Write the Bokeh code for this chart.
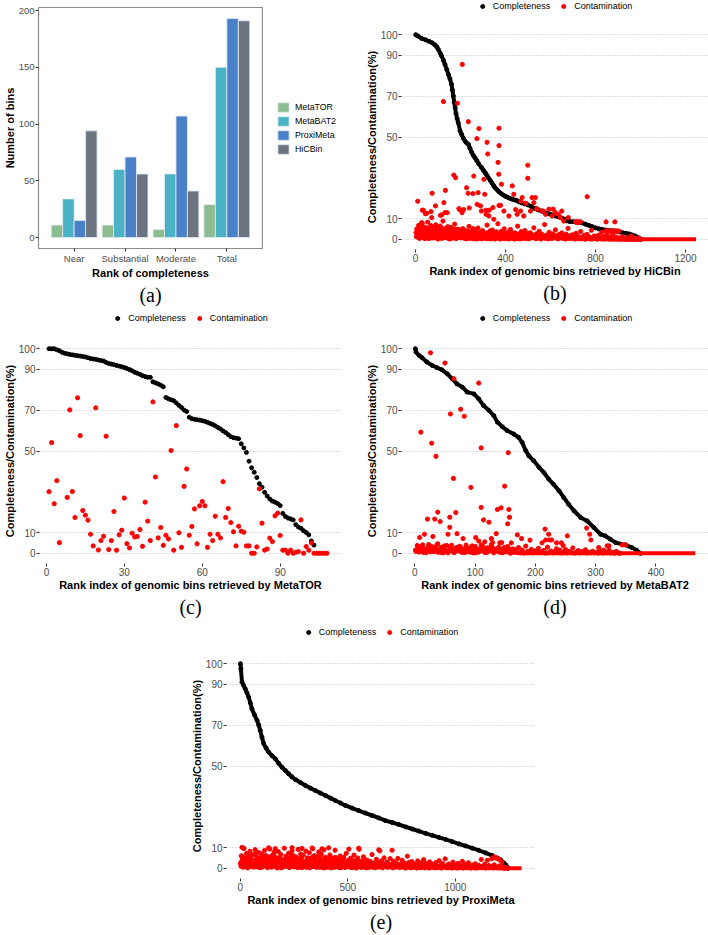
from bokeh.plotting import figure
from bokeh.models import (Range1d, FactorRange, FixedTicker, Legend, LegendItem,
                          Title, ColumnDataSource, Spacer)
from bokeh.layouts import row, column
from bokeh.transform import dodge
from bokeh.embed import file_html
from bokeh.resources import INLINE

FONT = "Liberation Sans"
SERIF = "Liberation Serif"

# ---------------- panel (a) data ----------------
CATEGORIES = ["Near", "Substantial", "Moderate", "Total"]
METHODS = ["MetaTOR", "MetaBAT2", "ProxiMeta", "HiCBin"]
METATOR_BINS = [11, 11, 7, 29]
METABAT2_BINS = [34, 60, 56, 150]
PROXIMETA_BINS = [15, 71, 107, 193]
HICBIN_BINS = [94, 56, 41, 191]
BAR_COLORS = ["#8ebc91", "#4ab2c4", "#4a80c8", "#6c7482"]
Y_TICKS_A = [0, 50, 100, 150, 200]

# ---------------- scatter panels shared ----------------
Y_TICKS = [0, 10, 50, 70, 90, 100]
SERIES = ["Completeness", "Contamination"]

# ---------------- (b) HiCBin ----------------
HICBIN_X_TICKS = [0, 400, 800, 1200]
HICBIN_COMP_RANK = [1, 10, 27, 45, 60, 75, 87, 95, 101, 110, 116, 124, 131, 139, 146, 153, 160, 164, 168, 172,
                    176, 180, 185, 190, 198, 205, 212, 220, 228, 235, 242, 250, 257, 264, 272, 280, 294, 302, 310, 317,
                    324, 332, 340, 347, 353, 362, 370, 380, 390, 400, 410, 420, 430, 442, 450, 460, 472, 486, 500, 515,
                    531, 545, 560, 575, 590, 605, 620, 635, 650, 662, 672, 685, 700, 712, 725, 740, 755, 770, 785, 800,
                    815, 830, 845, 860, 875, 890, 905, 920, 935, 950, 962, 975, 985, 995, 1003]
HICBIN_COMP = [100, 99.4, 98.2, 97.5, 96.8, 96, 95, 94, 92.9, 91, 89.6, 87.5, 85.5, 83, 80.6, 78.5, 75.8, 73, 70.1, 67,
               64.4, 61.5, 59, 57, 53, 51.3, 49.5, 48, 47, 46.4, 44.5, 42.5, 41, 39.9, 38.5, 37, 35, 33.7, 32.5, 31.3,
               30.1, 28.8, 27.5, 26.3, 25.3, 24.3, 23.3, 22.4, 21.6, 21, 20.5, 20, 19.6, 19.2, 19, 18.3, 17.8, 17.3, 16.8, 16,
               15, 14.4, 13.8, 13.1, 12.5, 12, 11.4, 11, 10.4, 9.8, 9, 8.7, 8.6, 8.5, 8.3, 8, 7.4, 6.8, 6.2, 5.6,
               5.1, 4.8, 4.5, 4.3, 4.2, 4, 3.6, 3.2, 2.9, 2.6, 2.1, 1.6, 1.1, 0.5, 0]
HICBIN_CONT_SCATTERED = [
    (124, 67.3), (186, 66.5), (208, 85.5), (235, 57.5), (273, 49.2), (282, 54.1), (318, 47.4), (321, 41.7),
    (371, 54.3), (371, 45.8), (367, 37.6), (10, 18.6), (30, 14.2), (44, 12.5), (74, 22.5), (89, 16.3),
    (111, 11.7), (126, 17.9), (133, 23.9), (141, 13.0), (170, 31.4), (178, 30.1), (193, 15.0), (207, 13.0),
    (227, 25.2), (234, 22.5), (255, 22.3), (259, 30.9), (274, 17.1), (278, 22.8), (289, 16.3), (293, 13.8),
    (304, 29.3), (308, 22.0), (314, 12.2), (326, 11.4), (348, 9.8), (370, 31.8), (378, 16.6), (382, 26.9),
    (393, 13.8), (415, 11.4), (430, 26.1), (437, 22.0), (452, 12.2), (467, 13.8), (474, 20.4), (481, 11.4),
    (499, 36.2), (499, 29.8), (511, 13.8), (518, 20.4), (526, 17.9), (533, 20.4), (541, 14.7), (563, 13.8),
    (578, 12.2), (593, 14.7), (607, 11.4), (622, 13.0), (644, 10.6), (659, 8.9), (718, 8.1), (763, 20.8),
    (847, 8.5), (886, 8.5), (35, 14.2), (50, 12.7), (69, 13.5), (116, 11.9), (131, 13.0), (72, 10.6),
    (27, 8.1), (196, 14.5), (214, 14.5), (239, 15.3), (313, 14.2), (328, 14.2), (344, 15.5), (445, 14.5),
    (539, 15.0), (568, 13.8), (612, 14.7), (635, 12.2), (650, 13.8), (679, 10.6), (490, 17.6), (469, 18.6),
    (371, 16.5), (711, 8.5), (716, 8.5), (722, 8.5), (728, 8.5), (733, 8.5), (844, 4.0), (850, 4.0),
    (856, 4.0), (862, 4.0), (868, 4.0), (874, 4.0), (880, 4.0), (886, 4.0), (892, 4.0), (898, 4.0), (904, 4.0)]
HICBIN_BAND_A = [  # ranks 2, 6, 10, ...
    3.2, 5.1, 1.4, 6.8, 2.5, 0.6, 4.3, 7.9, 1.8, 3.6, 0.3, 5.7, 2.9, 8.4, 1.1, 4.8, 3.0, 6.2, 0.9, 2.2, 5.4, 1.6, 7.1, 3.9, 0.4,
    4.6, 2.7, 6.5, 1.2, 3.4, 8.9, 0.7, 5.0, 2.0, 4.1, 6.0, 1.5, 3.3, 0.2, 5.8, 2.4, 4.4, 1.0, 7.4, 3.1, 0.5, 2.8, 4.9, 1.3, 3.7,
    0.8, 2.6, 5.2, 1.7, 3.5, 0.4, 2.1, 4.0, 1.1, 6.3, 0.6, 2.9, 3.8, 1.4, 0.2, 4.7, 2.3, 1.0, 3.2, 5.5, 0.7, 1.9, 2.7, 0.3, 4.2,
    1.6, 3.0, 0.5, 2.2, 6.9, 1.2, 0.3, 3.6, 2.0, 0.8, 4.5, 1.5, 2.8, 0.1, 3.3, 1.9, 7.6, 0.6, 2.4, 1.1, 3.9, 0.4, 2.6, 5.1, 1.3,
    0.7, 2.1, 3.4, 0.2, 1.6, 4.8, 0.9, 2.5, 1.2, 0.4, 3.1, 1.8, 0.6, 6.4, 2.3, 0.3, 1.4, 3.7, 0.8, 2.0, 1.0, 4.3, 0.5, 1.7, 2.9,
    0.2, 1.3, 3.2, 0.6, 2.2, 0.9, 5.6, 1.5, 0.3, 2.7, 1.1, 0.5, 3.9, 1.8, 0.1, 2.4, 0.7, 1.2, 7.2, 0.4, 2.0, 1.6, 0.2, 3.4, 0.8,
    1.4, 0.3, 2.6, 0.9, 1.1, 4.6, 0.5, 1.9, 0.2, 2.3, 0.7, 1.3, 3.1, 0.4, 0.9, 1.7, 0.1, 2.5, 0.6, 5.3, 1.0, 0.3, 1.8, 0.6, 2.2,
    0.4, 1.2, 0.1, 2.9, 0.7, 1.5, 0.3, 0.9, 3.8, 0.2, 1.1, 0.6, 1.9, 0.0, 0.8, 2.4, 0.3, 1.3, 0.5, 0.1, 4.4, 0.9, 0.2, 1.6, 0.4,
    0.7, 0.0, 1.8, 0.3, 1.1, 0.2, 3.3, 0.5, 0.0, 1.4, 0.6, 0.1, 2.1, 0.3, 0.9, 0.0, 1.2, 0.4, 0.0, 2.7, 0.2, 0.7, 0.0, 1.0, 0.3,
    0.0, 0.6, 0.1, 0.0, 1.3, 0.2, 0.0, 0.4, 0.0, 0.9, 0.1, 0.0, 0.3, 0.0, 1.6, 0.0, 0.2, 0.0, 0.5, 0.0, 0.1, 0.0, 0.7, 0.0, 0.0]
HICBIN_BAND_B = [  # ranks 4, 8, 12, ...
    1.2, 4.4, 2.6, 0.5, 5.9, 3.1, 1.7, 6.3, 0.8, 2.3, 4.0, 1.0, 3.7, 5.3, 0.3, 2.0, 6.7, 1.4, 3.4, 0.6, 4.9, 2.8, 1.9, 5.6, 0.1,
    3.0, 1.6, 4.5, 0.4, 2.4, 5.1, 1.1, 3.8, 0.9, 2.7, 6.1, 0.2, 1.8, 4.2, 2.5, 0.6, 3.6, 1.3, 5.0, 0.3, 2.2, 3.9, 1.0, 4.6, 0.7,
    2.0, 1.2, 3.3, 0.5, 4.4, 1.6, 0.2, 2.9, 1.0, 3.7, 0.4, 2.3, 1.5, 5.2, 0.8, 1.9, 3.1, 0.1, 2.5, 1.3, 0.6, 3.5, 1.8, 0.3, 2.1,
    0.9, 2.7, 1.4, 0.3, 3.2, 0.7, 1.9, 4.1, 0.2, 1.1, 2.5, 0.6, 1.7, 0.4, 3.6, 1.2, 0.8, 2.2, 0.1, 1.5, 3.0, 0.5, 1.0, 2.8, 0.3,
    1.3, 0.6, 2.4, 0.2, 1.6, 0.9, 3.3, 0.4, 1.2, 0.1, 2.0, 0.7, 1.5, 0.3, 2.6, 0.8, 0.2, 1.9, 0.5, 1.1, 3.0, 0.4, 0.9, 1.6]
HICBIN_ZERO_RUN = [1000, 1247]

# ---------------- (c) MetaTOR ----------------
METATOR_X_TICKS = [0, 30, 60, 90]
METATOR_COMP = [100, 100, 100, 99.5, 99, 98.3, 97.8, 97.5, 97.2, 97, 96.8, 96.6, 96.4, 96.2, 96, 95.6, 95.2, 95, 94.8, 94.5,
                94.2, 94, 93.3, 92.8, 92.5, 92.2, 91.8, 91.5, 91.2, 90.8, 90.3, 89.8, 89.2, 88.5, 88, 87.5, 86.8, 86.4, 86.1, 86,
                83.8, 83.3, 82.8, 82.2, 81.4, 76.2, 75.5, 75, 74.6, 73.5, 72.3, 71.3, 70, 69.3, 66.5, 65.8, 65.5, 65.3, 65.1, 64.8,
                64.5, 64, 63.5, 63, 62.3, 61.5, 60.8, 59.8, 59, 58, 57, 56.5, 56.3, 56, 53.5, 51.5, 49.3, 45, 41.8, 39.6,
                37, 34, 32.3, 29.8, 28, 26.5, 25.5, 25, 24.3, 23.3, 19.5, 18, 17.2, 16.8, 16.3, 14, 12.8, 12.2, 11, 10.2,
                9, 6, 4]
METATOR_CONT_RANK = [1, 2, 3, 4, 5] + list(range(8, 109))
METATOR_CONT = [30.1, 54.1, 24.2, 35.5, 5.2,
                27.3, 70.1, 30.2, 17.5, 76.0, 57.5, 20.9, 18.6, 16.2, 9.3,
                3.6, 71.1, 1.6, 6.2, 8.3, 57.2, 1.8, 6.2, 20.4, 1.5,
                9.0, 11.3, 27.0, 4.7, 2.6, 9.8, 8.0, 8.2, 11.6, 3.4,
                25.0, 15.7, 6.2, 74.0, 37.3, 7.5, 12.6, 3.9, 8.8, 7.0,
                50.2, 1.5, 62.4, 10.0, 2.9, 32.7, 41.2, 8.8, 13.1, 21.7,
                4.6, 23.2, 25.3, 23.2, 2.9, 9.3, 6.2, 18.1, 9.3, 7.5,
                35.0, 17.5, 21.9, 15.0, 10.5, 3.6, 13.2, 10.8, 10.3, 3.6,
                3.6, 0.0, 0.0, 3.1, 31.5, 14.7, 1.5, 2.1, 7.4, 5.7,
                18.3, 19.6, 8.7, 1.5, 1.5, 0.0, 1.5, 0.0, 0.5, 0.8,
                16.3, 0.0, 3.3, 1.5, 5.1, 0.0, 0.0, 0.0, 0.0, 0.0, 0.0]

# ---------------- (d) MetaBAT2 ----------------
METABAT2_X_TICKS = [0, 100, 200, 300, 400]
METABAT2_COMP_RANK = [1, 2, 7, 12, 20, 29, 37, 45, 54, 62, 70, 79, 87, 98, 106, 114, 123, 131, 137, 145,
                      153, 164, 172, 178, 184, 189, 197, 206, 214, 222, 230, 239, 247, 255, 264, 275, 286, 297, 308, 316,
                      324, 333, 349, 360, 368, 374]
METABAT2_COMP = [100, 98.4, 96.7, 95.6, 93.5, 91.8, 90.7, 89.7, 87.7, 85.3, 82.8, 81.2, 78.8, 77.9, 75.5, 72.2, 69.8, 67.3, 64.1, 61.9,
                 60, 58.3, 56.7, 54.2, 50.2, 47.7, 45.3, 42, 39.5, 36.3, 33.8, 30.6, 27.3, 24, 20.8, 17.5, 15.8, 12.6, 9.3, 8.5,
                 6.9, 5.2, 4.1, 2.8, 1.5, 0]
METABAT2_CONT_SCATTERED = [
    (8, 7.7), (10, 59.2), (16, 9.3), (21, 16.7), (26, 98), (28, 53.8), (30, 8.2), (33, 16.7), (35, 47.4), (38, 20.1),
    (38, 4.6), (42, 15.5), (50, 93), (55, 9.3), (58, 17.6), (58, 12.7), (59, 68.1), (64, 36.6), (65, 85.3), (68, 19.9),
    (70, 9.6), (76, 70.4), (80, 7.2), (82, 67), (93, 32.2), (101, 7.7), (106, 83.2), (106, 6), (110, 51.5), (110, 22.4),
    (114, 16.3), (116, 5.6), (123, 15.2), (127, 7.2), (129, 5.2), (135, 9.6), (137, 21.4), (141, 5.1), (143, 22.2), (144, 5.2),
    (149, 32.8), (154, 14.4), (155, 49.2), (156, 21.4), (157, 17.6), (160, 5.1), (170, 9), (177, 7.2), (191, 6.4), (211, 5.1),
    (216, 11.8), (217, 6.5), (222, 9.3), (223, 6.5), (227, 6.5), (235, 5.1), (243, 5.1), (246, 3.8), (253, 8.5), (285, 12.3),
    (290, 9.3), (292, 6.5), (305, 2.8), (313, 1.5), (319, 3.6), (322, 3.6), (344, 4.1), (350, 4.1)]
METABAT2_BAND_A = [  # ranks 1, 4, 7, ...
    1.5, 3.8, 0.6, 2.4, 4.1, 1.1, 0.3, 2.9, 1.8, 3.3, 0.8, 2.0, 4.4, 1.3, 0.4, 2.6, 3.6, 1.0, 0.2, 2.2, 3.9, 1.6, 0.7, 2.8, 1.2,
    3.1, 0.5, 1.9, 4.0, 0.9, 2.5, 1.4, 0.2, 3.4, 1.7, 0.6, 2.3, 3.7, 1.0, 0.3, 2.7, 1.5, 4.2, 0.8, 2.0, 1.2, 3.0, 0.4, 1.8, 2.6,
    0.7, 3.3, 1.3, 0.2, 2.1, 1.0, 0.5, 2.8, 0.3, 1.6, 0.1, 3.5, 0.9, 0.4, 1.9, 0.2, 1.2, 0.6, 2.4, 0.3, 0.8, 1.4, 0.1, 3.0, 0.5,
    1.1, 0.2, 0.7, 2.2, 0.3, 1.5, 0.1, 0.6, 1.8, 0.2, 0.9, 0.4, 2.6, 0.1, 0.5, 1.3, 0.2, 0.8, 0.3, 1.7, 0.1, 0.6, 0.2, 1.0, 0.3,
    0.5, 0.1, 1.2, 0.3, 0.1, 0.7, 0.2, 1.5, 0.1, 0.4, 0.0, 0.9, 0.2, 0.0]
METABAT2_BAND_B = [  # ranks 2, 5, 8, ...
    0.9, 2.7, 1.6, 3.5, 0.4, 2.1, 1.3, 4.3, 0.7, 2.4, 1.0, 3.2, 0.5, 1.8, 2.9, 0.2, 1.4, 3.8, 0.8, 2.2,
    1.1, 0.3, 2.6, 1.7, 3.4, 0.6, 1.9, 0.3, 2.8, 1.2, 0.5, 3.6, 1.5, 0.2, 2.0, 0.9, 4.0, 1.3, 0.4, 2.5,
    0.7, 1.8, 3.1, 0.2, 1.0, 2.3, 0.6, 1.5, 0.3, 2.9, 0.8, 1.2, 0.1, 2.0, 0.5, 1.6, 0.3]
METABAT2_ZERO_RUN = [172, 465]

# ---------------- (e) ProxiMeta ----------------
PROXIMETA_X_TICKS = [0, 500, 1000]
PROXIMETA_COMP_RANK = [1, 3, 8, 15, 23, 31, 39, 47, 54, 66, 78, 86, 93, 101, 109, 120, 132, 148, 163, 178,
                       194, 210, 225, 240, 256, 280, 303, 326, 349, 372, 396, 420, 442, 466, 489, 520, 551, 582, 613, 644,
                       675, 706, 737, 770, 800, 830, 862, 893, 924, 955, 986, 1017, 1048, 1079, 1110, 1141, 1172, 1195, 1211, 1226,
                       1236, 1242, 1246]
PROXIMETA_COMP = [100, 97.5, 91, 89.5, 87.8, 85.8, 83.7, 80.8, 78, 75, 72.3, 70, 67.4, 64, 60.9, 58.8, 56.8, 55, 53.5, 51.4,
                  49.4, 47.8, 46.2, 44.7, 43.4, 41.9, 40.5, 39.2, 38, 36.8, 35.6, 34.3, 33.1, 31.9, 30.7, 29.4, 28.2, 27, 25.8, 24.6,
                  23.3, 22.4, 21.4, 20.2, 19.2, 18.2, 17.1, 16.1, 15.1, 14.1, 13, 11.9, 10.9, 9.8, 8.7, 7.5, 6.2, 5, 4.1, 2.6,
                  1.5, 0.5, 0]
PROXIMETA_CONT_SCATTERED = [
    (8, 10.2), (16, 9.8), (132, 10.0), (163, 9.6), (241, 10.1), (287, 9.7), (334, 9.9), (380, 9.5), (411, 10.0),
    (505, 9.4), (551, 9.8), (644, 9.0), (706, 8.8), (1180, 5.5), (1188, 5.2), (1200, 4.6), (1206, 4.3)]
PROXIMETA_BAND_A = [  # ranks 1, 5, 9, ...
    2.4, 6.1, 0.8, 4.5, 9.6, 1.7, 3.3, 7.2, 0.4, 5.0, 2.9, 8.3, 1.2, 4.1, 6.6, 0.6, 3.7, 9.1, 2.0, 5.4, 1.0, 7.7, 3.0, 0.3, 4.8,
    6.9, 1.5, 3.9, 8.7, 2.6, 0.9, 5.7, 4.3, 1.9, 9.4, 3.5, 0.5, 6.3, 2.2, 7.9, 1.3, 4.6, 3.1, 0.2, 8.1, 5.2, 1.8, 6.7, 2.8, 0.7,
    4.0, 9.8, 2.3, 5.9, 1.1, 3.6, 7.4, 0.4, 4.9, 2.5, 8.6, 1.6, 6.0, 3.2, 0.8, 5.5, 2.1, 9.2, 1.4, 4.4, 7.0, 0.3, 3.8, 6.4, 1.9,
    2.7, 8.4, 0.6, 5.1, 3.4, 7.6, 1.2, 4.7, 2.0, 9.5, 0.9, 6.2, 3.0, 1.5, 5.8, 2.4, 8.0, 0.5, 4.2, 6.8, 1.7, 3.5, 9.0, 0.2, 5.3,
    2.9, 0.7, 4.6, 1.8, 6.5, 3.1, 0.4, 2.2, 5.0, 1.3, 8.8, 3.7, 0.9, 2.6, 4.1, 1.0, 6.0, 0.3, 3.3, 1.9, 5.4, 2.4, 0.6, 7.3, 1.5,
    3.8, 0.8, 2.3, 4.9, 1.2, 0.4, 3.0, 6.4, 1.7, 2.8, 0.2, 4.3, 1.1, 9.3, 2.5, 0.6, 3.5, 1.4, 5.6, 0.9, 2.1, 0.3, 4.0, 1.6, 2.9,
    0.5, 3.2, 1.3, 6.7, 0.8, 2.4, 1.9, 0.3, 4.4, 1.0, 2.7, 0.6, 8.5, 1.5, 3.6, 0.2, 2.0, 5.1, 0.9, 1.4, 3.0, 0.4, 2.3, 1.1, 4.7,
    0.7, 1.8, 0.2, 3.4, 1.2, 0.5, 2.6, 0.9, 4.8, 1.5, 0.3, 2.1, 0.8, 3.9, 1.1, 0.4, 2.5, 0.1, 1.6, 5.9, 0.6, 2.9, 1.3, 0.2, 3.3,
    1.0, 0.4, 2.2, 0.7, 1.5, 0.1, 3.6, 0.9, 1.8, 0.3, 2.7, 0.5, 1.2, 4.2, 0.2, 1.9, 0.6, 2.4, 0.8, 0.1, 3.1, 1.4, 0.4, 2.0, 0.7,
    1.7, 0.2, 2.8, 0.5, 1.1, 0.3, 3.7, 0.8, 1.6, 0.1, 2.3, 0.6, 0.9, 4.6, 0.3, 1.3, 0.2, 2.1, 0.7, 0.4, 1.8, 0.1, 3.0, 0.5, 1.0,
    0.3, 1.5, 0.1, 2.4, 0.6, 0.2, 1.2, 0.8, 3.4, 0.1, 0.5, 1.9, 0.3, 0.9, 0.2, 2.7, 0.4, 1.1, 0.1, 0.6, 1.6, 0.3, 0.2, 2.2, 0.5,
    0.1, 0.9, 1.4, 0.3, 0.6, 4.3, 0.2, 1.0, 0.4, 2.0, 0.1, 0.7, 3.9, 0.3, 1.3, 0.2, 0.5, 4.6, 0.8, 0.1, 1.7, 0.4, 5.0, 0.2, 0.6,
    0.3, 1.1, 0.1, 0.4, 2.9, 0.2, 0.0, 0.6, 0.1, 0.0]
PROXIMETA_BAND_B = [  # ranks 3, 7, 11, ...
    1.1, 3.6, 5.3, 0.5, 2.2, 4.7, 1.6, 6.4, 0.2, 3.0, 2.5, 5.8, 0.9, 4.0, 1.3, 3.3, 6.9, 0.7, 2.6, 4.4, 1.9, 0.4, 5.1, 3.7, 2.0,
    0.6, 4.9, 2.8, 1.2, 6.2, 3.4, 0.3, 5.6, 1.7, 2.3, 4.1, 0.8, 3.9, 1.4, 6.0, 2.1, 0.5, 4.6, 3.2, 1.0, 5.0, 2.7, 0.2, 3.8, 1.5,
    4.3, 0.9, 2.4, 5.5, 1.8, 3.1, 0.4, 4.8, 2.0, 6.6, 1.2, 3.5, 0.7, 2.9, 5.2, 1.6, 0.3, 4.0, 2.2, 1.0, 3.6, 5.9, 0.6, 2.5, 1.4,
    3.0, 0.5, 4.5, 1.9, 2.7, 0.2, 3.9, 1.3, 5.4, 0.8, 2.3, 4.2, 1.1, 0.4, 3.3, 2.0, 6.1, 0.9, 1.6, 3.7, 0.3, 2.6, 4.9, 1.4, 0.7,
    2.1, 3.5, 0.6, 1.8, 4.4, 0.2, 2.8, 1.2, 3.2, 0.5, 5.3, 1.7, 0.9, 2.4, 0.3, 3.8, 1.5, 0.7, 2.9, 4.7, 1.0, 0.4, 2.2, 1.3, 3.4,
    0.8, 1.9, 4.1, 0.3, 2.5, 1.1, 0.6, 3.6, 1.6, 0.2, 2.7, 5.0, 0.9, 1.4, 3.1, 0.4, 2.0, 1.2, 0.7, 4.3, 1.8, 0.3, 2.6, 0.5, 1.5,
    3.3, 0.8, 1.1, 2.4, 0.4]
PROXIMETA_ZERO_RUN = [1240, 1308]


# ---------------- helpers ----------------
def unzip(pairs):
    return [a for a, b in pairs], [b for a, b in pairs]


def band(start, step, vals):
    return [start + step * i for i in range(len(vals))], list(vals)


def style_axes(p, tick_px, label_px):
    p.axis.axis_line_color = None
    p.axis.major_tick_line_color = "#333333"
    p.axis.major_tick_out = 3
    p.axis.major_tick_in = 0
    p.axis.minor_tick_line_color = None
    p.axis.major_label_text_font = FONT
    p.axis.major_label_text_font_size = tick_px
    p.axis.major_label_text_color = "#4d4d4d"
    p.axis.major_label_standoff = 1
    p.axis.axis_label_text_font = FONT
    p.axis.axis_label_text_font_style = "bold"
    p.axis.axis_label_text_font_size = label_px
    p.axis.axis_label_text_color = "black"
    p.axis.axis_label_standoff = 0


def add_tag(p, tag):
    t = Title(text=tag, align="center", text_font=SERIF, text_font_size="20px",
              text_font_style="normal", text_color="black", standoff=0)
    p.add_layout(t, "below")


RED = "#ff0000"


def key_fig(W, H, bl, br, bt, bb, x_range):
    # a strip that only carries a key; its y range lies below all data, so only the key shows
    f = figure(width=W, height=H, x_axis_type=None, y_axis_type=None,
               x_range=x_range, y_range=Range1d(-30, -20),
               output_backend="svg", toolbar_location=None,
               min_border_left=bl, min_border_right=br, min_border_top=bt, min_border_bottom=bb)
    f.outline_line_color = None
    return f


def legend_strip(W, H, bl, br, comp_rank, comp_val, red_x, red_y):
    """Horizontal key 'Completeness / Contamination' drawn above a scatter panel."""
    f = key_fig(W, H, bl, br, 0, 0, Range1d(0, 1))
    kb = f.scatter(comp_rank, comp_val, size=4, color="black")
    kr = f.scatter(red_x, red_y, size=4.2, color=RED)
    leg = Legend(items=[LegendItem(label=SERIES[0], renderers=[kb]),
                        LegendItem(label=SERIES[1], renderers=[kr])],
                 orientation="horizontal", location="center", margin=0, padding=0,
                 border_line_color=None, background_fill_alpha=0,
                 label_text_font=FONT, label_text_font_size="9px", label_text_color="black",
                 glyph_width=10, glyph_height=10, label_height=12,
                 label_standoff=6, spacing=8)
    f.add_layout(leg)
    return f


def scatter_panel(W, H, bl, br, bt, bb, xr, xticks, xlabel, tag,
                  comp_rank, comp_val, curve, red_sets, zero_run):
    p = figure(width=W, height=H, x_range=Range1d(*xr), y_range=Range1d(-5, 105),
               output_backend="svg", toolbar_location=None,
               min_border_left=bl, min_border_right=br, min_border_top=bt, min_border_bottom=bb)
    p.outline_line_color = None
    p.xgrid.visible = False
    p.ygrid.ticker = FixedTicker(ticks=Y_TICKS)
    p.ygrid.grid_line_color = "#bdbdbd"
    p.ygrid.grid_line_dash = "1 2"
    p.ygrid.grid_line_width = 1
    p.yaxis.ticker = FixedTicker(ticks=Y_TICKS)
    p.xaxis.ticker = FixedTicker(ticks=xticks)
    style_axes(p, "10px", "11px")
    p.xaxis.axis_label = xlabel
    p.yaxis.axis_label = "Completeness/Contamination(%)"

    if curve:
        p.line(comp_rank, comp_val, line_width=4, color="black", line_cap="round", line_join="round")
    p.scatter(comp_rank, comp_val, size=4, color="black")
    for xs, ys in red_sets:
        p.scatter(xs, ys, size=4.2, color=RED)
    if zero_run is not None:
        p.line(zero_run, [0, 0], line_width=4.2, color=RED)
    add_tag(p, tag)
    return p


# ---------------- panel (a) ----------------
src = ColumnDataSource(dict(cat=CATEGORIES, MetaTOR=METATOR_BINS, MetaBAT2=METABAT2_BINS,
                            ProxiMeta=PROXIMETA_BINS, HiCBin=HICBIN_BINS))
pa = figure(width=263, height=307,
            x_range=FactorRange(factors=CATEGORIES, range_padding=0.2, range_padding_units="absolute"),
            y_range=Range1d(-9.65, 202.65), output_backend="svg", toolbar_location=None,
            min_border_left=34, min_border_right=1, min_border_top=7, min_border_bottom=59)
pa.xgrid.visible = False
pa.ygrid.visible = False
pa.outline_line_color = "#8c8c8c"
pa.outline_line_width = 1.2
style_axes(pa, "9.5px", "11px")
pa.yaxis.ticker = FixedTicker(ticks=Y_TICKS_A)
pa.xaxis.axis_label = "Rank of completeness"
pa.yaxis.axis_label = "Number of bins"
offsets = [-0.3375, -0.1125, 0.1125, 0.3375]
for name, col, off in zip(METHODS, BAR_COLORS, offsets):
    pa.vbar(x=dodge("cat", off, range=pa.x_range), top=name, width=0.225, source=src,
            fill_color=col, line_color="#e3ebf2", line_width=0.8)
add_tag(pa, "(a)")

# key for panel (a), in its own strip to the right of the bars (key renderers are not painted)
pa_key = key_fig(91, 307, 0, 0, 7, 59, FactorRange(factors=CATEGORIES))
key_items = []
for name, col in zip(METHODS, BAR_COLORS):
    kr = pa_key.vbar(x="cat", top=name, width=0.5, source=src,
                     fill_color=col, line_color="#e3ebf2", line_width=0.8, visible=False)
    key_items.append(LegendItem(label=name, renderers=[kr]))
pa_key.add_layout(Legend(items=key_items, location="center_left", orientation="vertical",
                         margin=13, padding=0, border_line_color=None, background_fill_alpha=0,
                         label_text_font=FONT, label_text_font_size="8.8px", label_text_color="black",
                         glyph_width=14, glyph_height=12, label_height=12, spacing=2, label_standoff=5))

# ---------------- scatter panels ----------------
hb_out = unzip(HICBIN_CONT_SCATTERED)
pb = scatter_panel(354, 295, 47, 0, 12, 58, (-62.2, 1302.2), HICBIN_X_TICKS,
                   "Rank index of genomic bins retrieved by HiCBin", "(b)",
                   HICBIN_COMP_RANK, HICBIN_COMP, True,
                   [band(2, 4, HICBIN_BAND_A), band(4, 4, HICBIN_BAND_B), hb_out],
                   HICBIN_ZERO_RUN)
pb_key = legend_strip(354, 12, 47, 0, HICBIN_COMP_RANK, HICBIN_COMP, *hb_out)

pc = scatter_panel(354, 292, 35, 13, 9, 58, (-2.66, 113.6), METATOR_X_TICKS,
                   "Rank index of genomic bins retrieved by MetaTOR", "(c)",
                   list(range(1, len(METATOR_COMP) + 1)), METATOR_COMP, False,
                   [(METATOR_CONT_RANK, METATOR_CONT)], None)
pc_key = legend_strip(354, 22, 35, 13, list(range(1, len(METATOR_COMP) + 1)), METATOR_COMP,
                      METATOR_CONT_RANK, METATOR_CONT)

mb_out = unzip(METABAT2_CONT_SCATTERED)
pd_ = scatter_panel(354, 292, 47, 0, 9, 58, (-22.1, 487.1), METABAT2_X_TICKS,
                    "Rank index of genomic bins retrieved by MetaBAT2", "(d)",
                    METABAT2_COMP_RANK, METABAT2_COMP, True,
                    [band(1, 3, METABAT2_BAND_A), band(2, 3, METABAT2_BAND_B), mb_out],
                    METABAT2_ZERO_RUN)
pd_key = legend_strip(354, 22, 47, 0, METABAT2_COMP_RANK, METABAT2_COMP, *mb_out)

pm_out = unzip(PROXIMETA_CONT_SCATTERED)
pe = scatter_panel(362, 292, 43, 10, 10, 57, (-64, 1373), PROXIMETA_X_TICKS,
                   "Rank index of genomic bins retrieved by ProxiMeta", "(e)",
                   PROXIMETA_COMP_RANK, PROXIMETA_COMP, True,
                   [band(1, 4, PROXIMETA_BAND_A), band(3, 4, PROXIMETA_BAND_B), pm_out],
                   PROXIMETA_ZERO_RUN)
pe_key = legend_strip(362, 22, 43, 10, PROXIMETA_COMP_RANK, PROXIMETA_COMP, *pm_out)

layout = column(
    row(pa, pa_key, column(pb_key, pb)),
    row(column(pc_key, pc), column(pd_key, pd_)),
    row(Spacer(width=183, height=314), column(pe_key, pe)),
)
open("out.html", "w").write(file_html(layout, INLINE))
